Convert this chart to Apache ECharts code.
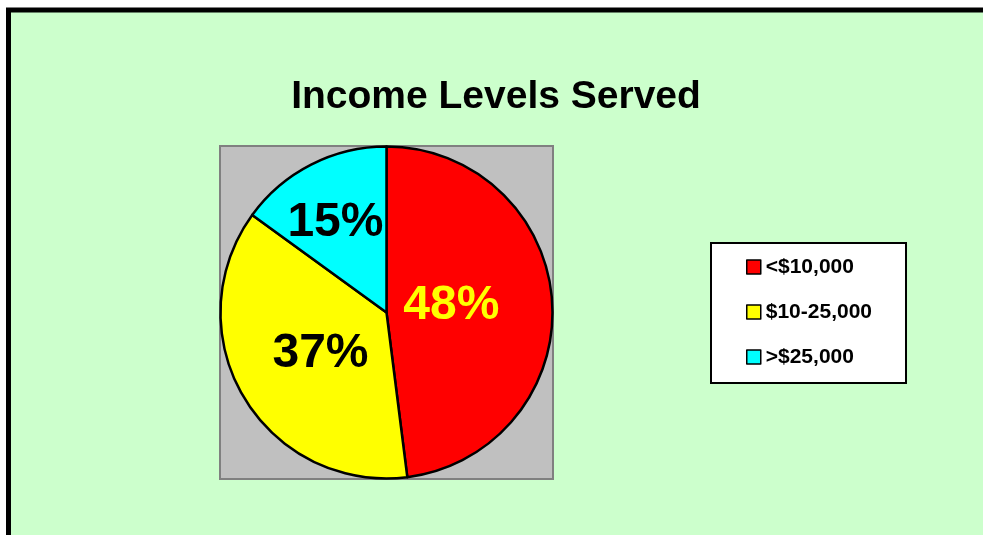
<!DOCTYPE html>
<html>
<head>
<meta charset="utf-8">
<script src="https://cdn.jsdelivr.net/npm/echarts@6/dist/echarts.min.js"></script>
<style>
html, body { margin: 0; padding: 0; background: #fff; }
#chart { width: 983px; height: 535px; }
</style>
</head>
<body>
<div id="chart"></div>
<script>
// data
var categories = ['<$10,000', '$10-25,000', '>$25,000'];
var shares = [48, 37, 15];
var colors = ['#FF0000', '#FFFF00', '#00FFFF'];
var labelColors = ['#FFFF00', '#000', '#000'];
var labelOffsets = [[-21, -1], [8, -3], [-12, -13]];

var myChart = echarts.init(document.getElementById('chart'));

var pieData = categories.map(function (name, i) {
    return {
        name: name,
        value: shares[i],
        itemStyle: { color: colors[i] },
        label: { color: labelColors[i], offset: labelOffsets[i] }
    };
});

myChart.setOption({
    animation: false,
    title: {
        text: 'Income Levels Served',
        left: 491,
        top: 73,
        textAlign: 'center',
        textStyle: {
            fontFamily: 'Liberation Sans, Arial, sans-serif',
            fontWeight: 'bold',
            fontSize: 39,
            color: '#000'
        }
    },
    legend: {
        orient: 'vertical',
        left: 711,
        top: 243,
        padding: [13, 34, 15, 35],
        backgroundColor: '#fff',
        borderColor: '#000',
        borderWidth: 2,
        borderRadius: 0,
        icon: 'rect',
        itemWidth: 14,
        itemHeight: 14,
        itemGap: 23,
        itemStyle: { borderColor: '#000', borderWidth: 1.5 },
        textStyle: {
            fontFamily: 'Liberation Sans, Arial, sans-serif',
            fontWeight: 'bold',
            fontSize: 21,
            lineHeight: 22,
            color: '#000'
        },
        data: categories
    },
    // 外框和灰色绘图区
    graphic: [
        {
            type: 'rect',
            z: -10,
            shape: { x: 8.5, y: 10, width: 1000, height: 600 },
            style: { fill: '#CCFFCC', stroke: '#000', lineWidth: 5 }
        },
        {
            type: 'rect',
            z: -5,
            shape: { x: 220, y: 146, width: 333, height: 333 },
            style: { fill: '#C0C0C0', stroke: '#808080', lineWidth: 2 }
        }
    ],
    series: [{
        type: 'pie',
        center: [386.5, 312.5],
        radius: 166,
        startAngle: 90,
        clockwise: true,
        avoidLabelOverlap: false,
        itemStyle: { borderColor: '#000', borderWidth: 2.5 },
        label: {
            show: true,
            position: 'inside',
            formatter: '{c}%',
            fontFamily: 'Liberation Sans, Arial, sans-serif',
            fontWeight: 'bold',
            fontSize: 48
        },
        labelLine: { show: false },
        emphasis: { disabled: true },
        data: pieData
    }]
});
</script>
</body>
</html>
